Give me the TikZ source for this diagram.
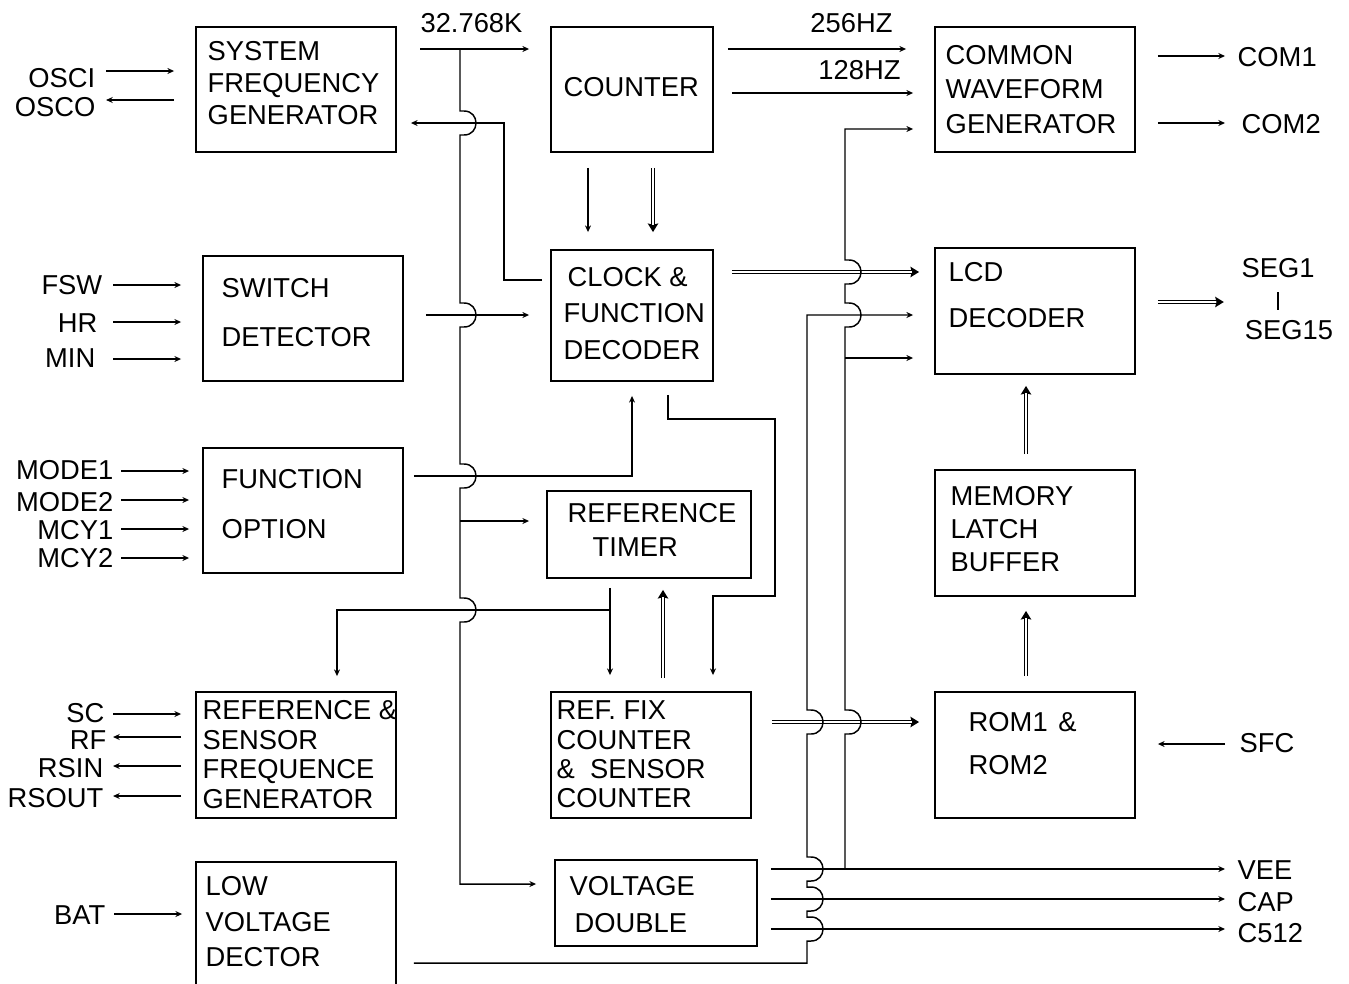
\documentclass[tikz,border=0pt]{standalone}
\usepackage{fontspec}
\setmainfont{Liberation Sans}
\usetikzlibrary{arrows.meta,calc}

\begin{document}
\begin{tikzpicture}[x=0.75pt,y=-0.75pt,line width=1.1pt,
  blk/.style={draw,line width=1.4pt,inner sep=0pt,minimum width=150pt,minimum height=93.75pt},
  txt/.style={inner sep=0pt,align=left,anchor=west,font=\fontsize{20.5}{#1}\selectfont},
  lab/.style={inner sep=0pt,font=\fontsize{20.5}{24}\selectfont},
  arr/.style={-{Stealth[length=5pt,width=4.5pt]}},
  dbl/.style={line width=3.6pt,-{Stealth[length=6.5pt,width=8pt,inset=1pt,line width=0pt]},
    postaction={draw=white,line width=2pt,-,shorten >=5.5pt}},
  hop/.style={insert path={-- ++(4,0) .. controls +(16,0) and +(16,0) .. ++(0,#1) -- ++(-4,0)}},
  hop/.default=24]
  \path[use as bounding box] (0,0) rectangle (1349,983);
  \clip (0,0) rectangle (1349,983);

  % blocks
  \node[blk] (sfg) at (296,89.5) {};
  \node[blk,minimum width=121.5pt] (cnt) at (632,89.5) {};
  \node[blk] (cwg) at (1035,89.5) {};
  \node[blk] (swd) at (303,318.5) {};
  \node[blk,minimum width=121.5pt,minimum height=98.25pt] (cfd) at (632,315.5) {};
  \node[blk,minimum height=94.5pt] (lcd) at (1035,311) {};
  \node[blk] (fop) at (303,510.5) {};
  \node[blk,minimum width=153pt,minimum height=65.25pt] (rtm) at (649,534.5) {};
  \node[blk,minimum height=94.5pt] (mlb) at (1035,533) {};
  \node[blk,minimum height=94.5pt] (rsf) at (296,755) {};
  \node[blk,minimum height=94.5pt] (rfc) at (651,755) {};
  \node[blk,minimum height=94.5pt] (rom) at (1035,755) {};
  \node[blk,minimum height=99pt] (lvd) at (296,928) {};
  \node[blk,minimum width=151.5pt,minimum height=64.5pt] (vdb) at (656,903) {};

  % block texts
  \node[txt=24pt] (sfgt) at (207,83) {SYSTEM\\FREQUENCY\\GENERATOR};
  \node[txt=24pt] (cntt) at (563,87) {COUNTER};
  \node[txt=25.9pt] (cwgt) at (945,89.5) {COMMON\\WAVEFORM\\GENERATOR};
  \node[txt=36.75pt] (swdt) at (221,312.5) {SWITCH\\DETECTOR};
  \node[txt=27.4pt] (cfdt) at (563,313.5) {\hspace*{3pt}CLOCK \&\\FUNCTION\\DECODER};
  \node[txt=34.5pt] (lcdt) at (948,295) {LCD\\DECODER};
  \node[txt=37.5pt] (fopt) at (221,504) {FUNCTION\\OPTION};
  \node[txt=25.5pt] (rtmt) at (567,530) {REFERENCE\\\hspace*{18.75pt}TIMER};
  \node[txt=24.75pt] (mlbt) at (950,529) {MEMORY\\LATCH\\BUFFER};
  \node[txt=22.3pt] (rsft) at (202,754.5) {REFERENCE \&\\SENSOR\\FREQUENCE\\GENERATOR};
  \node[txt=22.1pt] (rfct) at (556,754.5) {REF. FIX\\COUNTER\\\&\ \ SENSOR\\COUNTER};
  \node[txt=32.25pt] (romt) at (968,743.5) {ROM1\hspace{8pt}\&\\ROM2};
  \node[txt=26.6pt] (lvdt) at (205,922) {LOW\\VOLTAGE\\DECTOR};
  \node[txt=27.75pt] (vdbt) at (569,905) {VOLTAGE\\\hspace*{3.75pt}DOUBLE};

  % signal labels
  \node[lab] (k32) at (471.5,23) {32.768K};
  \node[lab] (hz256) at (851.5,23) {256HZ};
  \node[lab] (hz128) at (859.5,70) {128HZ};
  \node[lab,anchor=west] (com1) at (1237,57) {COM1};
  \node[lab,anchor=west] (com2) at (1241,124) {COM2};
  \node[lab] (seg1) at (1278,268) {SEG1};
  \node[lab] (seg15) at (1289,330) {SEG15};
  \draw[line width=0.8pt] (seg1.south) ++(0,14) -- ++(0,18);
  \node[lab,anchor=west] (sfc) at (1239,743) {SFC};
  \node[lab,anchor=west] (vee) at (1237,870) {VEE};
  \node[lab,anchor=west] (cap) at (1237,902) {CAP};
  \node[lab,anchor=west] (c512) at (1237,933) {C512};

  % pins in
  \foreach \nm/\tx/\lx/\ly/\ay/\bx/\dd in {osci/OSCI/96/78/71/sfg/89, fsw/FSW/103/285/285/swd/89,
      hr/HR/98/323/322/swd/89, min/MIN/96/358/359/swd/89, mode1/MODE1/114/470/471/fop/81,
      mode2/MODE2/114/502/500/fop/81, mcy1/MCY1/114/530/529/fop/81, mcy2/MCY2/114/558/558/fop/81,
      sc/SC/105/713/714/rsf/82, bat/BAT/106/915/914/lvd/81}
    {\node[lab,anchor=east] (\nm) at (\lx,\ly) {\tx};
     \draw[arr] (\bx.west |- 0,\ay) ++(-\dd,0) -- ++(68,0);}
  % pins out
  \foreach \nm/\tx/\lx/\ly/\ay/\bx/\dd in {osco/OSCO/96/107/100/sfg/21, rf/RF/107/740/737/rsf/14,
      rsin/RSIN/104/768/766/rsf/14, rsout/RSOUT/104/798/796/rsf/14}
    {\node[lab,anchor=east] (\nm) at (\lx,\ly) {\tx};
     \draw[arr] (\bx.west |- 0,\ay) ++(-\dd,0) -- ++(-68,0);}

  % double buses
  \draw[dbl] ($(cnt.south -| 653,0)+(0,15)$) -- ($(cfd.north -| 653,0)+(0,-17)$);
  \draw[dbl] ($(cfd.east |- 0,272)+(18,0)$) -- ($(lcd.west |- 0,272)+(-15,0)$);
  \draw[dbl] ($(rfc.north -| 663,0)+(0,-13)$) -- ($(rtm.south -| 663,0)+(0,11)$);
  \draw[dbl] ($(rfc.east |- 0,722)+(20,0)$) -- ($(rom.west |- 0,722)+(-15,0)$);
  \draw[dbl] ($(mlb.north -| 1026,0)+(0,-15)$) -- ($(lcd.south -| 1026,0)+(0,11)$);
  \draw[dbl] ($(rom.north -| 1026,0)+(0,-15)$) -- ($(mlb.south -| 1026,0)+(0,14)$);
  \draw[dbl] ($(lcd.east |- 0,302)+(22,0)$) -- ($(seg1.west |- 0,302)+(-17,0)$);

  % 32.768K and its bus
  \coordinate (ks) at (420,49);
  \draw[arr,shorten >=15.75pt] (ks) -- (cnt.west |- ks);
  \draw[arr,shorten >=13.5pt] (460,49) -- (460,111) [hop] -- (460,303) [hop] -- (460,464) [hop]
    -- (460,598) [hop] -- (460,884) -- (vdb.west |- 0,884);
  \draw[arr,shorten >=12.75pt] (460,521) -- (rtm.west |- 0,521);

  % decoder links
  \draw[arr,shorten >=10.5pt] (542,280) -- (504,280) -- (504,123) -- (sfg.east |- 0,123);
  \draw[arr,shorten <=16.5pt,shorten >=15.75pt] (swd.east |- 0,315) -- (cfd.west |- 0,315);
  \draw[arr,shorten <=7.5pt,shorten >=10.5pt] (fop.east |- 0,476) -- (cfd.south |- 0,476) -- (cfd.south);
  \draw[arr,shorten <=9.75pt,shorten >=12pt] (cfd.south -| 668,0) -- (668,419) -- (775,419)
    -- (775,596) -- (713,596) -- (rfc.north -| 713,0);
  \draw[arr,shorten <=11.25pt,shorten >=12.75pt] (cnt.south -| 588,0) -- (cfd.north -| 588,0);
  \draw[arr,shorten <=10.5pt,shorten >=21pt] (cnt.east |- 0,49) -- (cwg.west |- 0,49);
  \draw[arr,shorten <=13.5pt,shorten >=15.75pt] (cnt.east |- 0,93) -- (cwg.west |- 0,93);

  % VEE feed and low voltage line
  \draw[arr,shorten >=15.75pt] (845,869) -- (845,734) [hop=-24] -- (845,327) [hop=-24]
    -- (845,284) [hop=-24] -- (845,129) -- (cwg.west |- 0,129);
  \draw[arr,shorten >=15.75pt] (845,358) -- (lcd.west |- 0,358);
  \draw[arr,shorten <=12.75pt,shorten >=15.75pt] (lvd.east |- 0,963) -- (807,963) -- (807,941) [hop=-24]
    -- (807,911) [hop=-24] -- (807,881) [hop=-24] -- (807,734) [hop=-24] -- (807,315) -- (lcd.west |- 0,315);

  % reference timer and counters
  \draw[arr,shorten <=6.75pt,shorten >=12pt] (rtm.south -| 610,0) -- (rfc.north -| 610,0);
  \draw[arr,shorten >=11.25pt] (610,610) -- (337,610) -- (rsf.north -| 337,0);

  % outputs
  \draw[arr,shorten <=16.5pt,shorten >=9pt] (cwg.east |- 0,56) -- (com1.west |- 0,56);
  \draw[arr,shorten <=16.5pt,shorten >=12pt] (cwg.east |- 0,123) -- (com2.west |- 0,123);
  \draw[arr,shorten <=10.5pt,shorten >=16.5pt] (sfc.west |- 0,744) -- (rom.east |- 0,744);
  \foreach \nm/\ay in {vee/869, cap/899, c512/929}
    \draw[arr,shorten <=9.75pt,shorten >=9pt] (vdb.east |- 0,\ay) -- (\nm.west |- 0,\ay);
\end{tikzpicture}
\end{document}
